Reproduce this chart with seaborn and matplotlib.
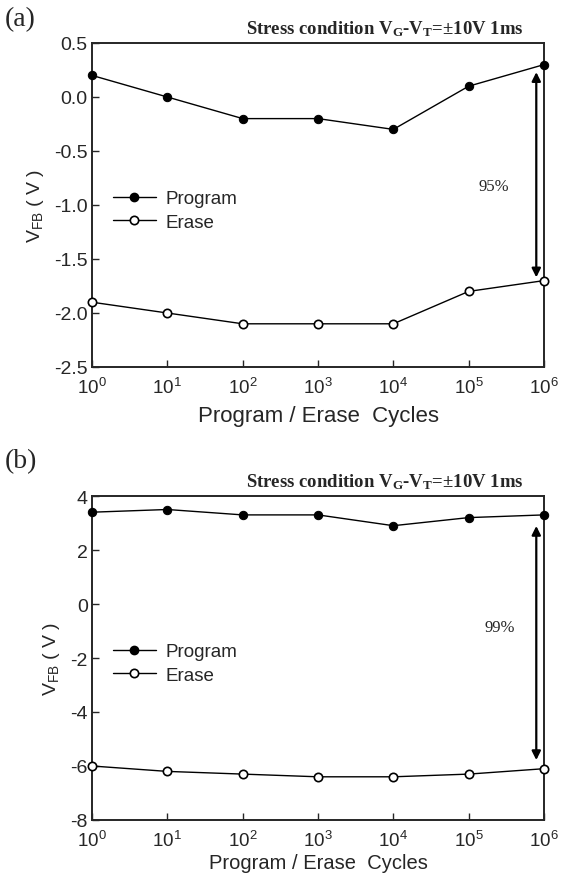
import numpy as np
import pandas as pd
import matplotlib
matplotlib.use("Agg")
import matplotlib.pyplot as plt
import seaborn as sns
from matplotlib.lines import Line2D

cycles = [1, 10, 100, 1e3, 1e4, 1e5, 1e6]
a_program = [0.2, 0.0, -0.2, -0.2, -0.3, 0.1, 0.3]
a_erase = [-1.9, -2.0, -2.1, -2.1, -2.1, -1.8, -1.7]
b_program = [3.4, 3.5, 3.3, 3.3, 2.9, 3.2, 3.3]
b_erase = [-6.0, -6.2, -6.3, -6.4, -6.4, -6.3, -6.1]

a_yticks = [0.5, 0.0, -0.5, -1.0, -1.5, -2.0, -2.5]
b_yticks = [4, 2, 0, -2, -4, -6, -8]
xtick_labels = [r"$\mathdefault{10^{%d}}$" % i for i in range(7)]

a_arrow = (7.9e5, 0.23, -1.67)
b_arrow = (7.9e5, 2.89, -5.78)
a_pct = "95%"
b_pct = "99%"

title_txt = r"Stress condition $\mathdefault{V_{G}}$-$\mathdefault{V_{T}}$=±10V 1ms"
xlabel_txt = "Program / Erase  Cycles"
ylabel_txt = r"V$\mathdefault{_{FB}}$ ( V )"

sns.set_style("ticks")
plt.rcParams['font.family'] = ['Liberation Sans', 'DejaVu Sans']
plt.rcParams['axes.linewidth'] = 1.4

fig = plt.figure(figsize=(5.73, 8.78), dpi=100)
W, H = 573, 878

def axes_rect(left, top, right, bottom):
    return [left / W, 1 - bottom / H, (right - left) / W, (bottom - top) / H]

axA = fig.add_axes(axes_rect(92, 44, 544, 368))
axB = fig.add_axes(axes_rect(92, 497, 544, 821))

MS = 6

def draw(ax, prog, erase, yticks, ylim, yfmt, arrow, pct, pct_pos, xl_size, xl_pad):
    df = pd.DataFrame({"cycles": cycles + cycles,
                       "V": list(prog) + list(erase),
                       "series": ["Program"] * len(cycles) + ["Erase"] * len(cycles)})
    sns.lineplot(data=df[df.series == "Program"], x="cycles", y="V", ax=ax,
                 color="black", lw=1.0, marker="o", markersize=MS,
                 markerfacecolor="black", markeredgecolor="black", clip_on=False,
                 legend=False, zorder=3)
    sns.lineplot(data=df[df.series == "Erase"], x="cycles", y="V", ax=ax,
                 color="black", lw=1.0, marker="o", markersize=MS,
                 markerfacecolor="white", markeredgecolor="black", markeredgewidth=1.2,
                 clip_on=False, legend=False, zorder=3)
    ax.set_xscale("log")
    ax.set_xlim(cycles[0], cycles[-1])
    ax.set_ylim(*ylim)
    ax.set_xticks(cycles)
    ax.set_xticklabels(xtick_labels)
    ax.minorticks_off()
    ax.set_yticks(yticks)
    ax.set_yticklabels([yfmt(v) for v in yticks])
    ax.tick_params(direction="in", length=5, width=1.0, labelsize=14, pad=3)
    ax.tick_params(axis="x", pad=7, labelsize=13.5)
    for s in ax.spines.values():
        s.set_visible(True)
        s.set_linewidth(1.4)
    ax.set_xlabel(xlabel_txt, fontsize=xl_size, labelpad=xl_pad)
    ax.set_ylabel(ylabel_txt, fontsize=14, labelpad=6)
    ax.text(0.954, 1.03, title_txt, transform=ax.transAxes, ha="right", va="baseline",
            fontsize=13.5, fontweight="bold", family=["Liberation Serif", "DejaVu Serif"])
    x, y1, y2 = arrow
    ax.annotate("", xy=(x, y1), xytext=(x, y2),
                arrowprops=dict(arrowstyle="<|-|>", color="black", lw=1.6,
                                shrinkA=0, shrinkB=0, mutation_scale=13))
    ax.text(pct_pos[0], pct_pos[1], pct, transform=ax.transAxes, ha="center", va="center",
            fontsize=12, family=["Liberation Serif", "DejaVu Serif"])
    handles = [Line2D([], [], color="black", lw=1.0, marker="o", markersize=MS,
                      markerfacecolor="black", markeredgecolor="black"),
               Line2D([], [], color="black", lw=1.0, marker="o", markersize=MS,
                      markerfacecolor="white", markeredgecolor="black", markeredgewidth=1.2)]
    ax.legend(handles, ["Program", "Erase"], loc="upper left",
              bbox_to_anchor=(0.046, 0.546), frameon=False, fontsize=13.5,
              handlelength=2.3, handletextpad=0.5, borderpad=0, borderaxespad=0,
              labelspacing=0.35)

draw(axA, a_program, a_erase, a_yticks, (-2.5, 0.5), lambda v: f"{v:.1f}",
     a_arrow, a_pct, (0.889, 0.559), 16, 6)
draw(axB, b_program, b_erase, b_yticks, (-8, 4), lambda v: f"{v:d}",
     b_arrow, b_pct, (0.903, 0.596), 14.5, 2)

fig.text(5 / W, 1 - 20 / H, "(a)", ha="left", va="center", fontsize=20,
         family=["Liberation Serif", "DejaVu Serif"])
fig.text(5 / W, 1 - 462 / H, "(b)", ha="left", va="center", fontsize=20,
         family=["Liberation Serif", "DejaVu Serif"])

fig.savefig("out.png", dpi=100)
